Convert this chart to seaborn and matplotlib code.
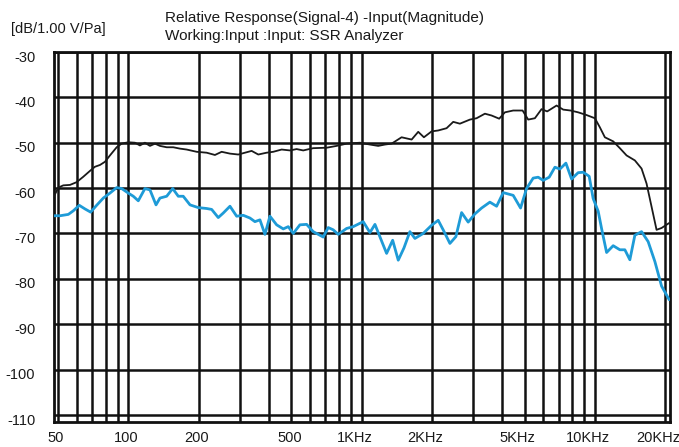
import matplotlib
matplotlib.use("Agg")
import matplotlib.pyplot as plt
import matplotlib.transforms as mtransforms
import seaborn as sns
import pandas as pd

# values (frequency in Hz, level in dB)
black_freq = [48, 50.1, 52.6, 56.2, 60.0, 64.1, 68.5, 71.9, 75.6, 79.4, 83.4, 89.1, 93.6, 99.9,
              106.8, 112.1, 117.8, 123.8, 130.1, 136.6, 146.0, 155.8, 166.4, 177.8, 196.3,
              216.6, 235.1, 251.2, 272.7, 296.0, 316.2, 337.7, 360.6, 391.6, 418.0, 454.2,
              492.9, 526.5, 562.0, 620.2, 708.4, 781.4, 862.6, 983.5,
              1086, 1178, 1259, 1345, 1484, 1639, 1749, 1850, 1996, 2130, 2314, 2471, 2639,
              2913, 3112, 3378, 3608, 3890, 4115, 4466, 4900, 5179, 5533, 5909, 6247, 6855,
              7315, 7870, 8482, 9215, 10002, 10508, 11040, 11985, 12800, 13677, 14845, 15860,
              16660, 17505, 18390, 19320, 20830]
black_db = [-61.8, -59.9, -59.4, -59.3, -58.7, -57.5, -56.2, -55.3, -54.9, -54.2, -52.8, -51.0,
            -50.2, -49.9, -50.0, -50.6, -50.0, -50.7, -50.2, -50.7, -51.0, -51.0, -51.3, -51.5,
            -52.0, -52.2, -52.7, -52.0, -52.4, -52.6, -52.2, -51.8, -52.6, -52.2, -52.0, -51.5,
            -51.7, -51.4, -51.7, -51.2, -51.1, -50.7, -50.2, -50.0,
            -50.4, -50.7, -50.4, -50.2, -48.8, -49.3, -47.6, -48.8, -47.5, -47.3, -46.8, -45.4,
            -45.8, -44.9, -44.6, -43.6, -44.0, -44.7, -43.3, -42.9, -42.9, -44.9, -44.6, -42.6,
            -43.1, -41.8, -42.7, -42.9, -43.3, -43.9, -44.6, -46.6, -48.8, -49.7, -51.2, -52.8,
            -53.9, -55.7, -59.0, -64.1, -69.2, -68.8, -67.7]

blue_freq = [48, 50.9, 55.3, 58.1, 61.6, 65.2, 68.9, 73.1, 78.1, 83.4, 89.1, 93.6, 99.9, 105.0,
             110.3, 117.8, 123.8, 131.4, 136.6, 146.0, 154.9, 163.7, 171.9, 183.8, 199.4,
             216.6, 227.6, 242.9, 255.2, 272.7, 291.3, 310.9, 332.1, 348.9, 366.6, 385.1,
             404.6, 432.3, 461.5, 484.8, 509.3, 543.9, 581.2, 620.2, 651.9, 684.7, 719.3,
             755.7, 793.9, 862.6, 920.6, 1016, 1086, 1141, 1206, 1280, 1359, 1436, 1519, 1611,
             1693, 1837, 1996, 2130, 2253, 2391, 2537, 2684, 2864, 3060, 3269, 3548, 3792,
             4047, 4466, 4804, 5096, 5440, 5716, 6004, 6372, 6742, 7084, 7515, 7948, 8482,
             8913, 9455, 9835, 10335, 10685, 11230, 11985, 12800, 13450, 14130, 14845, 15860,
             16925, 18090, 19320, 20830]
blue_db = [-66.1, -66.1, -65.8, -65.0, -63.8, -64.6, -65.3, -63.8, -62.2, -61.1, -59.9, -60.1,
           -61.1, -61.8, -62.8, -60.1, -60.4, -63.7, -62.2, -61.8, -60.1, -61.8, -61.8, -63.7,
           -64.3, -64.5, -64.7, -66.5, -65.5, -64.0, -66.2, -66.0, -66.6, -67.4, -67.0, -70.2,
           -66.2, -68.1, -69.0, -68.5, -70.0, -68.1, -68.0, -69.6, -70.2, -70.8, -68.7, -69.2,
           -70.2, -68.9, -68.5, -67.4, -69.8, -68.0, -71.1, -74.4, -71.5, -75.9, -73.2, -69.6,
           -71.1, -70.0, -68.2, -67.1, -69.5, -72.2, -70.7, -65.4, -67.5, -65.7, -64.4, -63.1,
           -64.0, -61.0, -61.6, -64.4, -60.1, -57.8, -57.6, -58.3, -57.6, -55.4, -55.8, -54.5,
           -58.0, -56.6, -56.5, -57.4, -62.3, -65.1, -68.9, -74.2, -72.7, -73.6, -73.6, -75.8,
           -70.4, -69.6, -71.8, -76.2, -81.6, -84.6]

x_ticks = [50, 100, 200, 500, 1000, 2000, 5000, 10000, 20000]
x_tick_labels = ["50", "100", "200", "500", "1KHz", "2KHz", "5KHz", "10KHz", "20KHz"]
x_grid = [50, 60, 70, 80, 90, 100, 200, 300, 400, 500, 600, 700, 800, 900,
          1000, 2000, 3000, 4000, 5000, 6000, 7000, 8000, 9000, 10000, 20000]
y_ticks = [-30, -40, -50, -60, -70, -80, -90, -100, -110]

black_df = pd.DataFrame({"freq": black_freq, "db": black_db})
blue_df = pd.DataFrame({"freq": blue_freq, "db": blue_db})

sns.set_style("white")
plt.rcParams["font.family"] = ["Liberation Sans", "DejaVu Sans"]

fig = plt.figure(figsize=(6.79, 4.47), dpi=100)
ax = fig.add_axes([54 / 679, 1 - 421.7 / 447, 616 / 679, 369.7 / 447])

sns.lineplot(data=black_df, x="freq", y="db", ax=ax, color="#1a1a1a", lw=1.3,
             estimator=None, sort=False, zorder=3)
sns.lineplot(data=blue_df, x="freq", y="db", ax=ax, color="#1e9bd7", lw=2.0,
             estimator=None, sort=False, zorder=4)

ax.set_xscale("log")
ax.set_xlim(48, 21000)
ax.set_ylim(-111.5, -30)

ax.set_xticks(x_grid, minor=True)
ax.set_xticks(x_ticks)
ax.set_xticklabels(x_tick_labels)
ax.xaxis.set_minor_formatter(matplotlib.ticker.NullFormatter())
ax.set_yticks(y_ticks)
ax.set_yticklabels([str(v) for v in y_ticks])

ax.grid(True, which="both", axis="x", color="#111111", lw=1.8)
ax.grid(True, which="major", axis="y", color="#111111", lw=1.8)
ax.tick_params(axis="both", which="both", length=0, labelsize=10.5, colors="#1a1a1a")
ax.tick_params(axis="x", pad=7)
ax.tick_params(axis="y", pad=13.5)

# y labels sit a bit below their gridlines in the original
shift = mtransforms.ScaledTranslation(0, -3 / 72, fig.dpi_scale_trans)
for lab in ax.get_yticklabels():
    lab.set_transform(lab.get_transform() + shift)

# x labels are set slightly left of their gridlines, the KHz ones more so
for lab in ax.get_xticklabels():
    dx = -7 if "KHz" in lab.get_text() else -2
    lab.set_transform(lab.get_transform() +
                      mtransforms.ScaledTranslation(dx / 100, 0, fig.dpi_scale_trans))

for sp in ax.spines.values():
    sp.set_visible(True)
    sp.set_color("#111111")
    sp.set_linewidth(2.0)

ax.set_xlabel("")
ax.set_ylabel("")

fig.text(165 / 679, 1 - 18 / 447, "Relative Response(Signal-4) -Input(Magnitude)",
         fontsize=11, va="center", ha="left", color="#1a1a1a")
fig.text(165 / 679, 1 - 36 / 447, "Working:Input :Input: SSR Analyzer",
         fontsize=11, va="center", ha="left", color="#1a1a1a")
fig.text(11 / 679, 1 - 29 / 447, "[dB/1.00 V/Pa]",
         fontsize=10.5, va="center", ha="left", color="#1a1a1a")

fig.savefig("out.png", dpi=100)
